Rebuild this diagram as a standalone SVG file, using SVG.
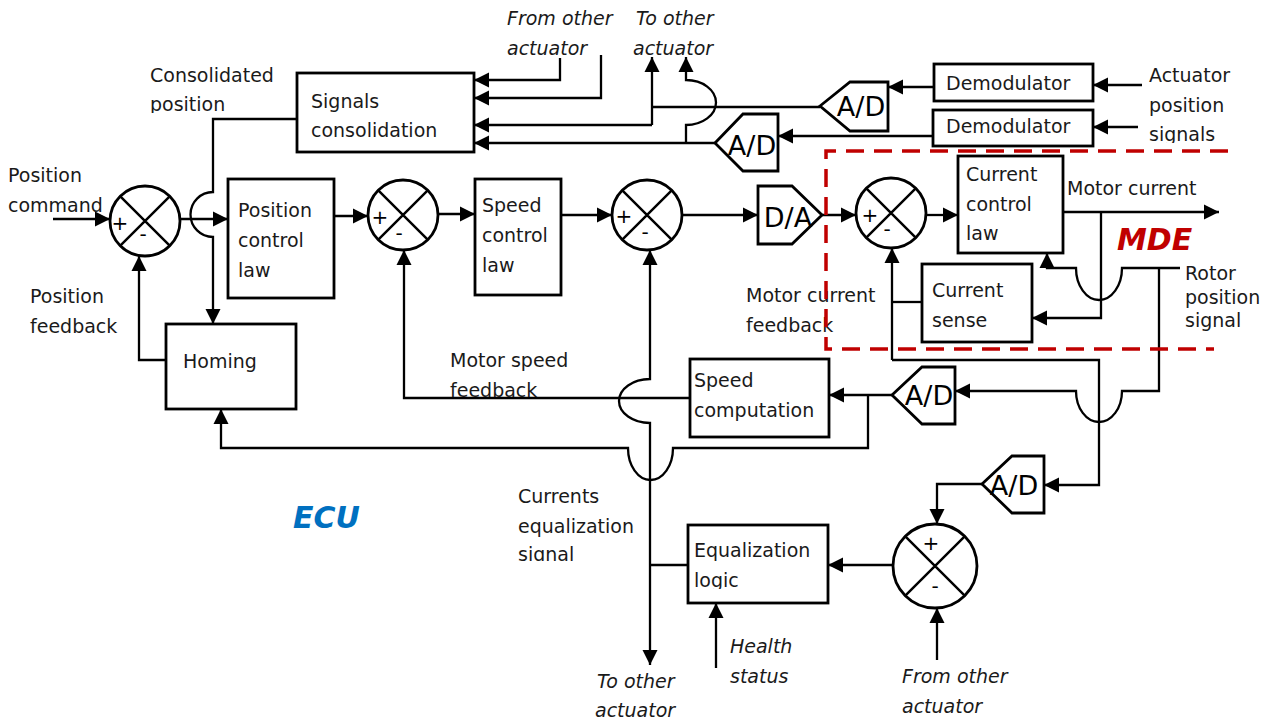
<svg xmlns="http://www.w3.org/2000/svg" width="1264" height="724" viewBox="0 0 1264 724">
  <style>
    .box { fill: #fff; stroke: #000; stroke-width: 2.8; }
    .wire { fill: none; stroke: #000; stroke-width: 2.3; }
    .arr { marker-end: url(#ah); }
    text { font-family: "DejaVu Sans", Verdana, sans-serif; font-size: 19px; fill: #1a1a1a; }
    .it { font-style: italic; }
    .conv { font-size: 27px; text-anchor: middle; fill: #000; }
    .sign { font-size: 20px; text-anchor: middle; fill: #000; }
    .frame { fill: none; stroke: #C00000; stroke-width: 3.5; stroke-dasharray: 18 10; }
  </style>
  <defs>
    <marker id="ah" markerUnits="userSpaceOnUse" markerWidth="16" markerHeight="16" refX="15" refY="8" orient="auto">
      <path d="M0,0.5 L15,8 L0,15.5 Z" fill="#000"/>
    </marker>
    <g id="sumglyph">
      <circle r="35" fill="#fff" stroke="#000" stroke-width="2.8"/>
      <path d="M-24.7,-24.7 L24.7,24.7 M24.7,-24.7 L-24.7,24.7" stroke="#000" stroke-width="2.5"/>
    </g>
    <clipPath id="clipConsPos"><rect x="140" y="90" width="150" height="23"/></clipPath>
    <clipPath id="clipSignals"><rect x="1140" y="120" width="120" height="23"/></clipPath>
    <clipPath id="clipSpeedFb"><rect x="440" y="375" width="120" height="22"/></clipPath>
    <clipPath id="clipEqSig"><rect x="510" y="540" width="120" height="21"/></clipPath>
    <clipPath id="clipLogic"><rect x="690" y="565" width="120" height="24"/></clipPath>
  </defs>

  <!-- signal lines -->
  <g id="connectors" class="wire">
    <path class="arr" d="M53,219 H110"/>
    <path class="arr" d="M180,219 H228"/>
    <path class="arr" d="M297,119 H213 V192 A22.5,22.5 0 0 0 213,237 V324"/>
    <path class="arr" d="M166,360 H139 V256"/>
    <path class="arr" d="M334,216 H368"/>
    <path class="arr" d="M438,214 H475"/>
    <path class="arr" d="M561,215 H612"/>
    <path class="arr" d="M682,215 H758"/>
    <path class="arr" d="M822,215 H856"/>
    <path class="arr" d="M926,215 H958"/>
    <path class="arr" d="M1063,212 H1219"/>
    <path class="arr" d="M1101,212 V318 H1032"/>
    <path d="M922,302 H892"/>
    <path class="arr" d="M892,360 V248"/>
    <path class="arr" d="M892,360 H1099 V485 H1044"/>
    <path class="arr" d="M1180,268 H1122 A23,32 0 0 1 1076,268 H1047 V253"/>
    <path class="arr" d="M1159,268 V391 H1122 A23,31 0 0 1 1076,391 H955"/>
    <path class="arr" d="M892,395 H829"/>
    <path class="arr" d="M868,395 V448 H673 A22.5,32 0 0 1 628,448 H221 V409"/>
    <path class="arr" d="M690,398 H404 V250"/>
    <path d="M688,565 H650"/>
    <path class="arr" d="M650,565 V423 A31,22 0 0 1 650,379 V250"/>
    <path class="arr" d="M650,565 V665"/>
    <path class="arr" d="M982,484 H937 V524"/>
    <path class="arr" d="M937,660 V608"/>
    <path class="arr" d="M893,565 H828"/>
    <path class="arr" d="M716,668 V603"/>
    <path class="arr" d="M934,87 H888"/>
    <path class="arr" d="M1142,85 H1093"/>
    <path class="arr" d="M1138,127 H1093"/>
    <path class="arr" d="M933,136 H778"/>
    <path d="M820,107 H652"/>
    <path class="arr" d="M652,125 V57"/>
    <path class="arr" d="M652,125 H474"/>
    <path class="arr" d="M715,143 H474"/>
    <path class="arr" d="M686,143 V125 A30,22.5 0 0 0 686,80 V57"/>
    <path class="arr" d="M560,58 V80 H474"/>
    <path class="arr" d="M601,55 V98 H474"/>
  </g>

  <!-- position loop -->
  <g id="sum1">
    <use href="#sumglyph" transform="translate(145,221)"/>
    <text class="sign" x="120" y="230">+</text>
    <text class="sign" x="143" y="241">-</text>
  </g>
  <g id="position-control-law">
    <rect class="box" x="228" y="179" width="106" height="119"/>
    <text x="238" y="217">Position</text>
    <text x="238" y="247">control</text>
    <text x="238" y="277">law</text>
  </g>
  <g id="homing">
    <rect class="box" x="166" y="324" width="130" height="85"/>
    <text x="183" y="368">Homing</text>
  </g>

  <!-- speed loop -->
  <g id="sum2">
    <use href="#sumglyph" transform="translate(403,215)"/>
    <text class="sign" x="380" y="224">+</text>
    <text class="sign" x="399" y="240">-</text>
  </g>
  <g id="speed-control-law">
    <rect class="box" x="475" y="179" width="86" height="116"/>
    <text x="482" y="212">Speed</text>
    <text x="482" y="242">control</text>
    <text x="482" y="272">law</text>
  </g>
  <g id="sum3">
    <use href="#sumglyph" transform="translate(647,215)"/>
    <text class="sign" x="624" y="223">+</text>
    <text class="sign" x="645" y="239">-</text>
  </g>
  <g id="dac">
    <path class="box" d="M758,186 H792 L822,215 L792,244 H758 Z"/>
    <text class="conv" x="788" y="227">D/A</text>
  </g>

  <!-- current loop (MDE) -->
  <g id="sum4">
    <use href="#sumglyph" transform="translate(891,213)"/>
    <text class="sign" x="870" y="222">+</text>
    <text class="sign" x="887" y="236">-</text>
  </g>
  <g id="current-control-law">
    <rect class="box" x="958" y="156" width="105" height="97"/>
    <text x="966" y="181">Current</text>
    <text x="966" y="211">control</text>
    <text x="966" y="240">law</text>
  </g>
  <g id="current-sense">
    <rect class="box" x="922" y="264" width="110" height="78"/>
    <text x="932" y="297">Current</text>
    <text x="932" y="327">sense</text>
  </g>

  <!-- position acquisition -->
  <g id="signals-consolidation">
    <rect class="box" x="297" y="73" width="177" height="79"/>
    <text x="311" y="108">Signals</text>
    <text x="311" y="137">consolidation</text>
  </g>
  <g id="adc-top">
    <path class="box" d="M820,106 L850,82 H888 V131 H850 Z"/>
    <text class="conv" x="861" y="116">A/D</text>
  </g>
  <g id="adc-top2">
    <path class="box" d="M715,143 L743,114 H778 V171 H743 Z"/>
    <text class="conv" x="752" y="155">A/D</text>
  </g>
  <g id="demodulator1">
    <rect class="box" x="934" y="64" width="159" height="37"/>
    <text x="946" y="90">Demodulator</text>
  </g>
  <g id="demodulator2">
    <rect class="box" x="933" y="110" width="160" height="36"/>
    <text x="946" y="133">Demodulator</text>
  </g>

  <!-- speed and equalization -->
  <g id="speed-computation">
    <rect class="box" x="690" y="359" width="139" height="78"/>
    <text x="694" y="387">Speed</text>
    <text x="694" y="417">computation</text>
  </g>
  <g id="adc-speed">
    <path class="box" d="M892,395 L922,367 H955 V424 H922 Z"/>
    <text class="conv" x="929" y="405">A/D</text>
  </g>
  <g id="adc-current">
    <path class="box" d="M982,484 L1012,456 H1044 V513 H1012 Z"/>
    <text class="conv" x="1014" y="495">A/D</text>
  </g>
  <g id="sum5">
    <circle cx="935" cy="566" r="42" fill="#fff" stroke="#000" stroke-width="2.8"/>
    <path d="M905.3,536.3 L964.7,595.7 M964.7,536.3 L905.3,595.7" stroke="#000" stroke-width="2.5"/>
    <text class="sign" x="931" y="550">+</text>
    <text class="sign" x="935" y="593">-</text>
  </g>
  <g id="equalization-logic">
    <rect class="box" x="688" y="525" width="140" height="78"/>
    <text x="694" y="557">Equalization</text>
    <text x="694" y="587" clip-path="url(#clipLogic)">logic</text>
  </g>

  <!-- signal labels -->
  <g id="labels">
    <text x="150" y="82">Consolidated</text>
    <text x="150" y="111" clip-path="url(#clipConsPos)">position</text>
    <text class="it" x="507" y="25">From other</text>
    <text class="it" x="507" y="55">actuator</text>
    <text class="it" x="636" y="25">To other</text>
    <text class="it" x="633" y="55">actuator</text>
    <text x="1149" y="82">Actuator</text>
    <text x="1149" y="112">position</text>
    <text x="1149" y="141" clip-path="url(#clipSignals)">signals</text>
    <text x="8" y="182">Position</text>
    <text x="8" y="212">command</text>
    <text x="30" y="303">Position</text>
    <text x="30" y="333">feedback</text>
    <text x="1067" y="195">Motor current</text>
    <text x="1185" y="280">Rotor</text>
    <text x="1185" y="304">position</text>
    <text x="1185" y="327">signal</text>
    <text x="746" y="302">Motor current</text>
    <text x="746" y="332">feedback</text>
    <text x="450" y="367">Motor speed</text>
    <text x="450" y="397" clip-path="url(#clipSpeedFb)">feedback</text>
    <text x="518" y="503">Currents</text>
    <text x="518" y="533">equalization</text>
    <text x="518" y="561" clip-path="url(#clipEqSig)">signal</text>
    <text class="it" x="597" y="688">To other</text>
    <text class="it" x="595" y="717">actuator</text>
    <text class="it" x="730" y="653">Health</text>
    <text class="it" x="730" y="683">status</text>
    <text class="it" x="902" y="683">From other</text>
    <text class="it" x="902" y="713">actuator</text>
    <text x="293" y="528" style="font-size:30px;font-weight:bold;font-style:italic;fill:#0070C0">ECU</text>
    <text x="1117" y="250" style="font-size:30px;font-weight:bold;font-style:italic;fill:#C00000">MDE</text>
  </g>

  <!-- MDE boundary -->
  <g id="mde-frame">
    <path class="frame" d="M1228,151 H826 V349 H1214"/>
  </g>
</svg>
